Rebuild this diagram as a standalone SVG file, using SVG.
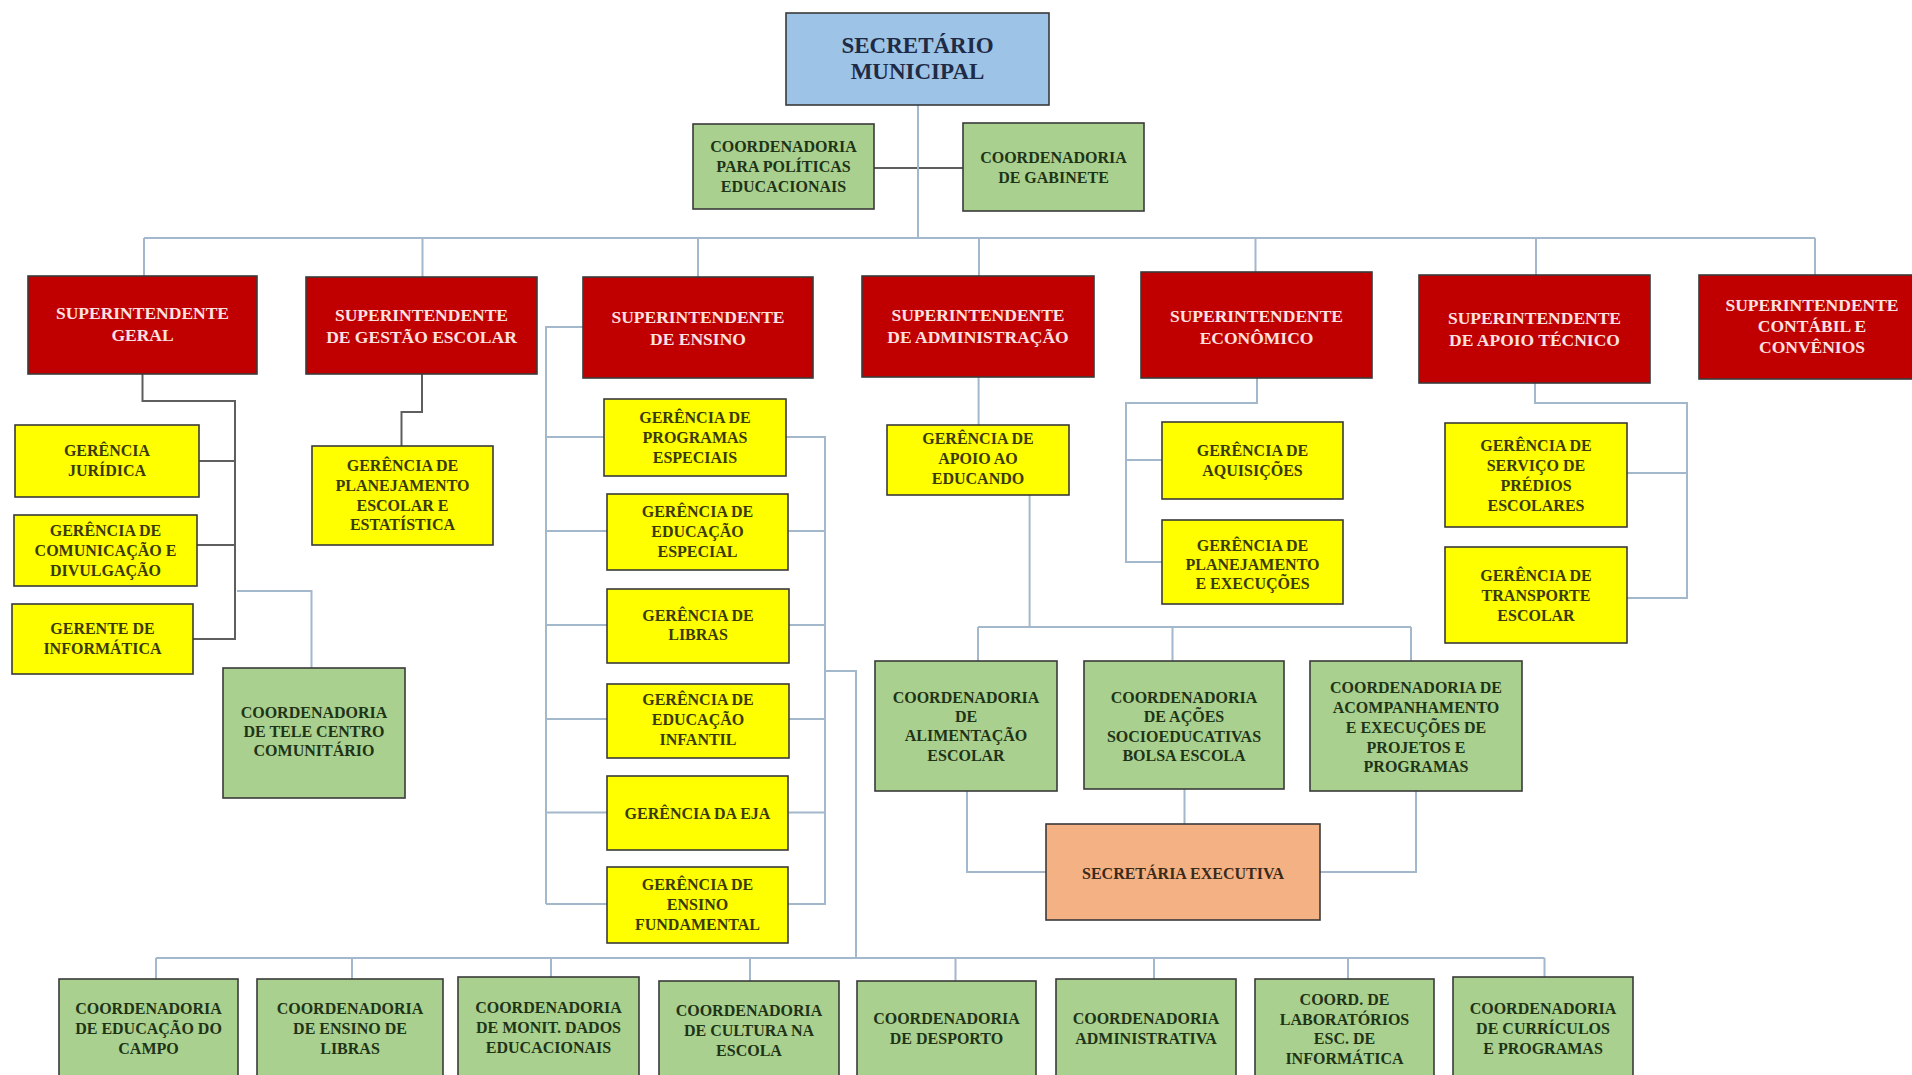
<svg xmlns="http://www.w3.org/2000/svg" width="1912" height="1075" viewBox="0 0 1912 1075">
<style>
rect{stroke:#3a3a3a;stroke-width:1.6}
rect.bg{stroke:none;fill:#ffffff}
.blue{fill:#9dc3e6}
.red{fill:#c00000}
.yel{fill:#ffff00}
.grn{fill:#a9d08e}
.sal{fill:#f4b183}
text{font-family:"Liberation Serif","Times New Roman",serif;font-weight:bold;text-anchor:middle;dominant-baseline:central}
.ts{font-size:23px;fill:#1f2a44}
.tr{font-size:17.5px;fill:#fbe2e0}
.ty{font-size:16px;fill:#3a3a08}
.tg{font-size:16px;fill:#1e3317}
.to{font-size:16px;fill:#3a2a1a}
.cd{fill:none;stroke:#5e5e5e;stroke-width:2}
.cl{fill:none;stroke:#a3b8cb;stroke-width:2}
</style>
<rect class="bg" x="0" y="0" width="1912" height="1075"/>
<g id="connectors">
<path class="cd" d="M874,168 H963"/>
<path class="cd" d="M142.5,374 V401 H235 V640 M199,461 H235 M197,545 H235 M193,639 H235"/>
<path class="cd" d="M422,374 V412 H401.5 V446"/>
<path class="cl" d="M918,105 V238"/>
<path class="cl" d="M144,238 H1815 M144,238 V276 M422.5,238 V277 M698,238 V277 M979,238 V276 M1255.5,238 V272 M1536,238 V275 M1815,238 V275"/>
<path class="cl" d="M237,591 H311.5 V668"/>
<path class="cl" d="M583,327 H546 V904 M546,437 H604 M546,531 H607 M546,625 H607 M546,719 H607 M546,812.5 H607 M546,904 H607"/>
<path class="cl" d="M786,437 H825 V904 H788 M788,531 H825 M789,625 H825 M789,719 H825 M788,812.5 H825 M825,671 H856 V958"/>
<path class="cl" d="M156,958 H1544.5 M156,958 V979 M352,958 V979 M551,958 V977 M750,958 V981 M955.5,958 V981 M1154,958 V979 M1348,958 V979 M1544.5,958 V977"/>
<path class="cl" d="M978.6,377 V425 M1029.6,495 V627 M978,627 H1411 M978,627 V661 M1172.5,627 V661 M1411,627 V661"/>
<path class="cl" d="M967,791 V872 H1046 M1184.5,789 V824 M1416,791 V872 H1320"/>
<path class="cl" d="M1257,378 V403 H1126 V562 H1162 M1126,460 H1162"/>
<path class="cl" d="M1535,383 V403 H1687 V598 H1627 M1627,473 H1687"/>
</g>
<g id="secretario"><rect class="blue" x="786" y="13" width="263" height="92"/><text class="ts"><tspan x="917.5" y="45">SECRETÁRIO</tspan><tspan x="917.5" y="71">MUNICIPAL</tspan></text></g>
<g id="coord-politicas"><rect class="grn" x="693" y="124" width="181" height="85"/><text class="tg"><tspan x="783.5" y="146">COORDENADORIA</tspan><tspan x="783.5" y="166">PARA POLÍTICAS</tspan><tspan x="783.5" y="186">EDUCACIONAIS</tspan></text></g>
<g id="coord-gabinete"><rect class="grn" x="963" y="123" width="181" height="88"/><text class="tg"><tspan x="1053.5" y="157">COORDENADORIA</tspan><tspan x="1053.5" y="177">DE GABINETE</tspan></text></g>

<g id="sup-geral"><rect class="red" x="28" y="276" width="229" height="98"/><text class="tr"><tspan x="142.5" y="313">SUPERINTENDENTE</tspan><tspan x="142.5" y="335">GERAL</tspan></text></g>
<g id="sup-gestao"><rect class="red" x="306" y="277" width="231" height="97"/><text class="tr"><tspan x="421.5" y="315">SUPERINTENDENTE</tspan><tspan x="421.5" y="337">DE GESTÃO ESCOLAR</tspan></text></g>
<g id="sup-ensino"><rect class="red" x="583" y="277" width="230" height="101"/><text class="tr"><tspan x="698" y="317">SUPERINTENDENTE</tspan><tspan x="698" y="339">DE ENSINO</tspan></text></g>
<g id="sup-admin"><rect class="red" x="862" y="276" width="232" height="101"/><text class="tr"><tspan x="978" y="315">SUPERINTENDENTE</tspan><tspan x="978" y="337">DE ADMINISTRAÇÃO</tspan></text></g>
<g id="sup-economico"><rect class="red" x="1141" y="272" width="231" height="106"/><text class="tr"><tspan x="1256.5" y="316">SUPERINTENDENTE</tspan><tspan x="1256.5" y="338">ECONÔMICO</tspan></text></g>
<g id="sup-apoio"><rect class="red" x="1419" y="275" width="231" height="108"/><text class="tr"><tspan x="1534.5" y="318">SUPERINTENDENTE</tspan><tspan x="1534.5" y="340">DE APOIO TÉCNICO</tspan></text></g>
<g id="sup-contabil"><rect class="red" x="1699" y="275" width="230" height="104"/><text class="tr"><tspan x="1812" y="305">SUPERINTENDENTE</tspan><tspan x="1812" y="326">CONTÁBIL E</tspan><tspan x="1812" y="347">CONVÊNIOS</tspan></text></g>

<g id="ger-juridica"><rect class="yel" x="15" y="425" width="184" height="72"/><text class="ty"><tspan x="107" y="450">GERÊNCIA</tspan><tspan x="107" y="470">JURÍDICA</tspan></text></g>
<g id="ger-comunicacao"><rect class="yel" x="14" y="515" width="183" height="71"/><text class="ty"><tspan x="105.5" y="530">GERÊNCIA DE</tspan><tspan x="105.5" y="550">COMUNICAÇÃO E</tspan><tspan x="105.5" y="570">DIVULGAÇÃO</tspan></text></g>
<g id="ger-informatica"><rect class="yel" x="12" y="604" width="181" height="70"/><text class="ty"><tspan x="102.5" y="628">GERENTE DE</tspan><tspan x="102.5" y="648">INFORMÁTICA</tspan></text></g>
<g id="coord-telecentro"><rect class="grn" x="223" y="668" width="182" height="130"/><text class="tg"><tspan x="314" y="712">COORDENADORIA</tspan><tspan x="314" y="731">DE TELE CENTRO</tspan><tspan x="314" y="750">COMUNITÁRIO</tspan></text></g>
<g id="ger-planejamento-escolar"><rect class="yel" x="312" y="446" width="181" height="99"/><text class="ty"><tspan x="402.5" y="465">GERÊNCIA DE</tspan><tspan x="402.5" y="485">PLANEJAMENTO</tspan><tspan x="402.5" y="505">ESCOLAR E</tspan><tspan x="402.5" y="524">ESTATÍSTICA</tspan></text></g>

<g id="ger-programas"><rect class="yel" x="604" y="399" width="182" height="77"/><text class="ty"><tspan x="695" y="417">GERÊNCIA DE</tspan><tspan x="695" y="437">PROGRAMAS</tspan><tspan x="695" y="457">ESPECIAIS</tspan></text></g>
<g id="ger-ed-especial"><rect class="yel" x="607" y="494" width="181" height="76"/><text class="ty"><tspan x="697.5" y="511">GERÊNCIA DE</tspan><tspan x="697.5" y="531">EDUCAÇÃO</tspan><tspan x="697.5" y="551">ESPECIAL</tspan></text></g>
<g id="ger-libras"><rect class="yel" x="607" y="589" width="182" height="74"/><text class="ty"><tspan x="698" y="615">GERÊNCIA DE</tspan><tspan x="698" y="634">LIBRAS</tspan></text></g>
<g id="ger-ed-infantil"><rect class="yel" x="607" y="684" width="182" height="74"/><text class="ty"><tspan x="698" y="699">GERÊNCIA DE</tspan><tspan x="698" y="719">EDUCAÇÃO</tspan><tspan x="698" y="739">INFANTIL</tspan></text></g>
<g id="ger-eja"><rect class="yel" x="607" y="776" width="181" height="74"/><text class="ty"><tspan x="697.5" y="813">GERÊNCIA DA EJA</tspan></text></g>
<g id="ger-fundamental"><rect class="yel" x="607" y="867" width="181" height="76"/><text class="ty"><tspan x="697.5" y="884">GERÊNCIA DE</tspan><tspan x="697.5" y="904">ENSINO</tspan><tspan x="697.5" y="924">FUNDAMENTAL</tspan></text></g>

<g id="ger-apoio-educando"><rect class="yel" x="887" y="425" width="182" height="70"/><text class="ty"><tspan x="978" y="438">GERÊNCIA DE</tspan><tspan x="978" y="458">APOIO AO</tspan><tspan x="978" y="478">EDUCANDO</tspan></text></g>
<g id="coord-alimentacao"><rect class="grn" x="875" y="661" width="182" height="130"/><text class="tg"><tspan x="966" y="697">COORDENADORIA</tspan><tspan x="966" y="716">DE</tspan><tspan x="966" y="735">ALIMENTAÇÃO</tspan><tspan x="966" y="755">ESCOLAR</tspan></text></g>
<g id="coord-acoes"><rect class="grn" x="1084" y="661" width="200" height="128"/><text class="tg"><tspan x="1184" y="697">COORDENADORIA</tspan><tspan x="1184" y="716">DE AÇÕES</tspan><tspan x="1184" y="736">SOCIOEDUCATIVAS</tspan><tspan x="1184" y="755">BOLSA ESCOLA</tspan></text></g>
<g id="coord-acompanhamento"><rect class="grn" x="1310" y="661" width="212" height="130"/><text class="tg"><tspan x="1416" y="687">COORDENADORIA DE</tspan><tspan x="1416" y="707">ACOMPANHAMENTO</tspan><tspan x="1416" y="727">E EXECUÇÕES DE</tspan><tspan x="1416" y="747">PROJETOS E</tspan><tspan x="1416" y="766">PROGRAMAS</tspan></text></g>
<g id="secretaria-executiva"><rect class="sal" x="1046" y="824" width="274" height="96"/><text class="to"><tspan x="1183" y="873">SECRETÁRIA EXECUTIVA</tspan></text></g>

<g id="ger-aquisicoes"><rect class="yel" x="1162" y="422" width="181" height="77"/><text class="ty"><tspan x="1252.5" y="450">GERÊNCIA DE</tspan><tspan x="1252.5" y="470">AQUISIÇÕES</tspan></text></g>
<g id="ger-planejamento-execucoes"><rect class="yel" x="1162" y="520" width="181" height="84"/><text class="ty"><tspan x="1252.5" y="545">GERÊNCIA DE</tspan><tspan x="1252.5" y="564">PLANEJAMENTO</tspan><tspan x="1252.5" y="583">E EXECUÇÕES</tspan></text></g>
<g id="ger-predios"><rect class="yel" x="1445" y="423" width="182" height="104"/><text class="ty"><tspan x="1536" y="445">GERÊNCIA DE</tspan><tspan x="1536" y="465">SERVIÇO DE</tspan><tspan x="1536" y="485">PRÉDIOS</tspan><tspan x="1536" y="505">ESCOLARES</tspan></text></g>
<g id="ger-transporte"><rect class="yel" x="1445" y="547" width="182" height="96"/><text class="ty"><tspan x="1536" y="575">GERÊNCIA DE</tspan><tspan x="1536" y="595">TRANSPORTE</tspan><tspan x="1536" y="615">ESCOLAR</tspan></text></g>

<g id="coord-campo"><rect class="grn" x="59" y="979" width="179" height="110"/><text class="tg"><tspan x="148.5" y="1008">COORDENADORIA</tspan><tspan x="148.5" y="1028">DE EDUCAÇÃO DO</tspan><tspan x="148.5" y="1048">CAMPO</tspan></text></g>
<g id="coord-ensino-libras"><rect class="grn" x="257" y="979" width="186" height="110"/><text class="tg"><tspan x="350" y="1008">COORDENADORIA</tspan><tspan x="350" y="1028">DE ENSINO DE</tspan><tspan x="350" y="1048">LIBRAS</tspan></text></g>
<g id="coord-monit"><rect class="grn" x="458" y="977" width="181" height="112"/><text class="tg"><tspan x="548.5" y="1007">COORDENADORIA</tspan><tspan x="548.5" y="1027">DE MONIT. DADOS</tspan><tspan x="548.5" y="1047">EDUCACIONAIS</tspan></text></g>
<g id="coord-cultura"><rect class="grn" x="659" y="981" width="180" height="108"/><text class="tg"><tspan x="749" y="1010">COORDENADORIA</tspan><tspan x="749" y="1030">DE CULTURA NA</tspan><tspan x="749" y="1050">ESCOLA</tspan></text></g>
<g id="coord-desporto"><rect class="grn" x="857" y="981" width="179" height="108"/><text class="tg"><tspan x="946.5" y="1018">COORDENADORIA</tspan><tspan x="946.5" y="1038">DE DESPORTO</tspan></text></g>
<g id="coord-administrativa"><rect class="grn" x="1056" y="979" width="180" height="110"/><text class="tg"><tspan x="1146" y="1018">COORDENADORIA</tspan><tspan x="1146" y="1038">ADMINISTRATIVA</tspan></text></g>
<g id="coord-laboratorios"><rect class="grn" x="1255" y="979" width="179" height="110"/><text class="tg"><tspan x="1344.5" y="999">COORD. DE</tspan><tspan x="1344.5" y="1019">LABORATÓRIOS</tspan><tspan x="1344.5" y="1038">ESC. DE</tspan><tspan x="1344.5" y="1058">INFORMÁTICA</tspan></text></g>
<g id="coord-curriculos"><rect class="grn" x="1453" y="977" width="180" height="112"/><text class="tg"><tspan x="1543" y="1008">COORDENADORIA</tspan><tspan x="1543" y="1028">DE CURRÍCULOS</tspan><tspan x="1543" y="1048">E PROGRAMAS</tspan></text></g>
</svg>
